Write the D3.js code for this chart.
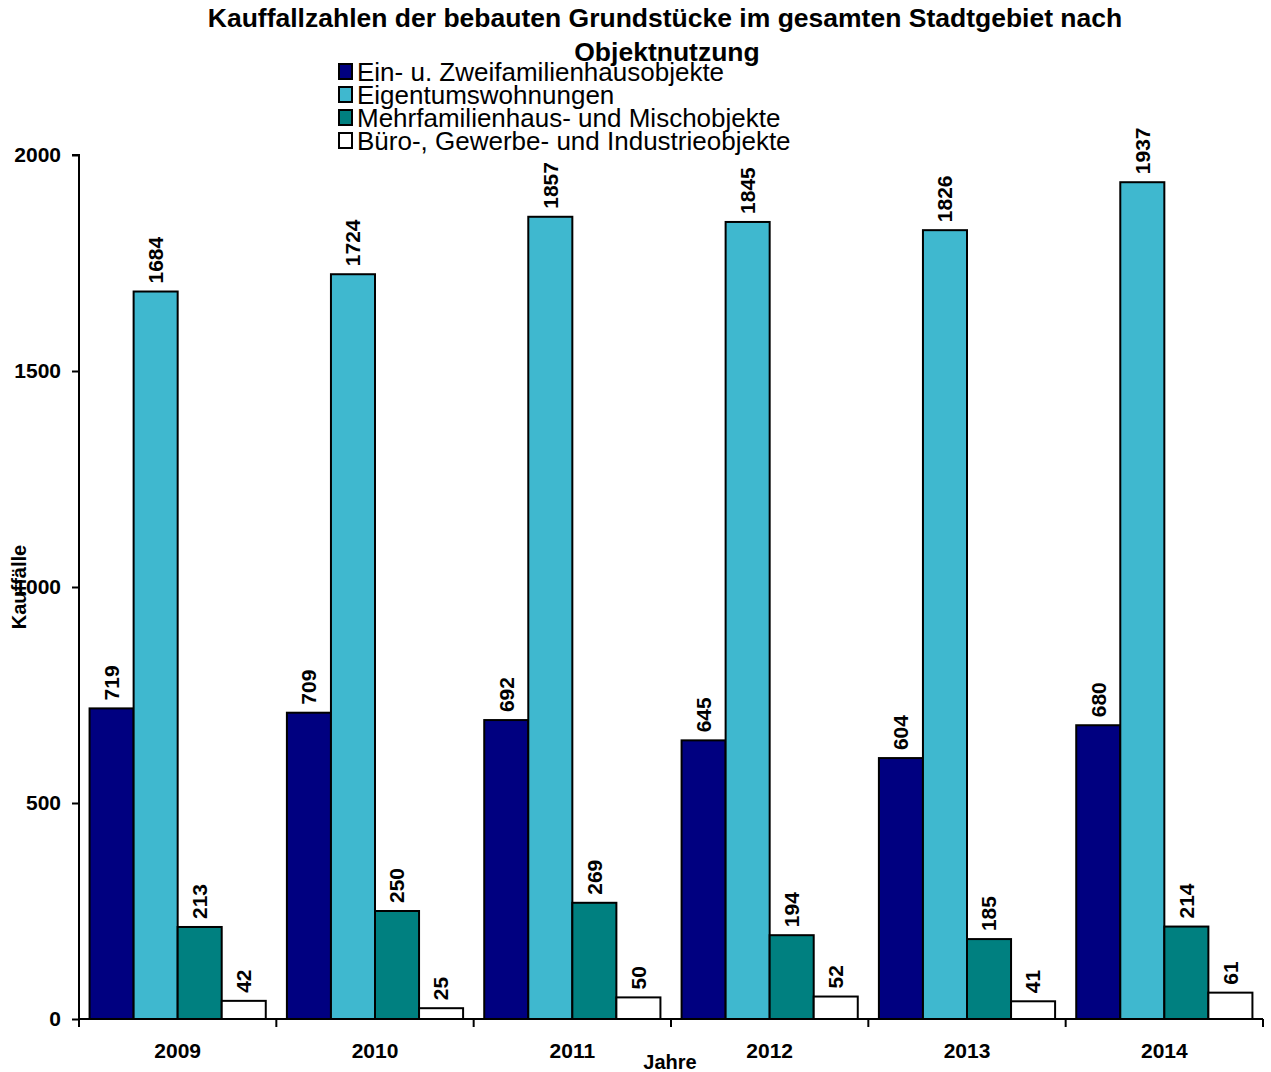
<!DOCTYPE html>
<html><head><meta charset="utf-8">
<script src="https://cdn.jsdelivr.net/npm/d3@7"></script>
<style>body{margin:0;background:#fff}svg{display:block;font-family:"Liberation Sans",Arial,sans-serif}</style>
</head><body>
<script>
const years = ["2009","2010","2011","2012","2013","2014"];
const seriesNames = ["Ein- u. Zweifamilienhausobjekte","Eigentumswohnungen","Mehrfamilienhaus- und  Mischobjekte","Büro-, Gewerbe- und Industrieobjekte"];
const einZwei = [719,709,692,645,604,680];
const eigentum = [1684,1724,1857,1845,1826,1937];
const mehr = [213,250,269,194,185,214];
const buero = [42,25,50,52,41,61];
const yTicks = [0,500,1000,1500,2000];
const colors = ["#000080","#3FB8CF","#008080","#FFFFFF"];
const series = [einZwei, eigentum, mehr, buero];

const W=1271,H=1072;
const svg=d3.select("body").append("svg").attr("width",W).attr("height",H);
const x0=79,x1=1263,yB=1019,yT=155;
const x=d3.scaleBand().domain(years).range([x0,x1]);
const xi=d3.scaleBand().domain(d3.range(4)).range([0,x.bandwidth()]).paddingOuter(0.24).paddingInner(0);
const y=d3.scaleLinear().domain([0,2000]).range([yB,yT]);

// title
svg.append("text").attr("x",665).attr("y",27).attr("text-anchor","middle").attr("font-size",26.5).attr("font-weight","bold").text("Kauffallzahlen der bebauten Grundstücke im gesamten Stadtgebiet nach");
svg.append("text").attr("x",667).attr("y",61).attr("text-anchor","middle").attr("font-size",26.5).attr("font-weight","bold").text("Objektnutzung");

// bars
const g=svg.append("g");
years.forEach((yr,i)=>{
  series.forEach((s,k)=>{
    const bx=x(yr)+xi(k), bw=xi.bandwidth(), v=s[i];
    g.append("rect").attr("x",bx).attr("y",y(v)).attr("width",bw).attr("height",yB-y(v))
      .attr("fill",colors[k]).attr("stroke","#000").attr("stroke-width",2);
    g.append("text").attr("transform",`translate(${bx+bw/2},${y(v)-8}) rotate(-90)`)
      .attr("dy","0.35em").attr("font-size",21).attr("font-weight","bold").text(v);
  });
});

// y axis
const ya=svg.append("g").attr("transform",`translate(${x0},0)`)
  .call(d3.axisLeft(y).tickValues(yTicks).tickSize(7).tickPadding(11).tickFormat(d3.format("d")));
ya.select(".domain").attr("stroke","#000").attr("stroke-width",2).attr("d",`M-7,${yT}H0V${yB}`);
ya.selectAll(".tick line").attr("stroke-width",2);
ya.selectAll("text").attr("font-size",21).attr("font-weight","bold").attr("font-family","Liberation Sans, Arial, sans-serif").attr("fill","#000");

// x axis
const xa=svg.append("g").attr("transform",`translate(0,${yB})`)
  .call(d3.axisBottom(x).tickSize(0).tickPadding(24));
xa.select(".domain").attr("stroke","#000").attr("stroke-width",2).attr("d",`M${x0},0H${x1}`);
xa.selectAll("text").attr("font-size",21).attr("font-weight","bold").attr("font-family","Liberation Sans, Arial, sans-serif").attr("fill","#000");
const bounds=years.map(d=>x(d)).concat([x1]);
svg.append("g").selectAll("line").data(bounds).join("line")
  .attr("x1",d=>d).attr("x2",d=>d).attr("y1",yB).attr("y2",yB+8).attr("stroke","#000").attr("stroke-width",2);

// axis titles
svg.append("text").attr("x",670).attr("y",1069).attr("text-anchor","middle").attr("font-size",20).attr("font-weight","bold").text("Jahre");
svg.append("text").attr("transform","translate(26,587) rotate(-90)").attr("text-anchor","middle").attr("font-size",20).attr("font-weight","bold").text("Kauffälle");

// legend
const lg=svg.append("g");
seriesNames.forEach((n,k)=>{
  const ly=72+k*23;
  lg.append("rect").attr("x",339).attr("y",ly-8).attr("width",13).attr("height",15).attr("fill",colors[k]).attr("stroke","#000").attr("stroke-width",2);
  lg.append("text").attr("x",357).attr("y",ly).attr("dy","0.35em").attr("font-size",26).text(n);
});
</script>
</body></html>
